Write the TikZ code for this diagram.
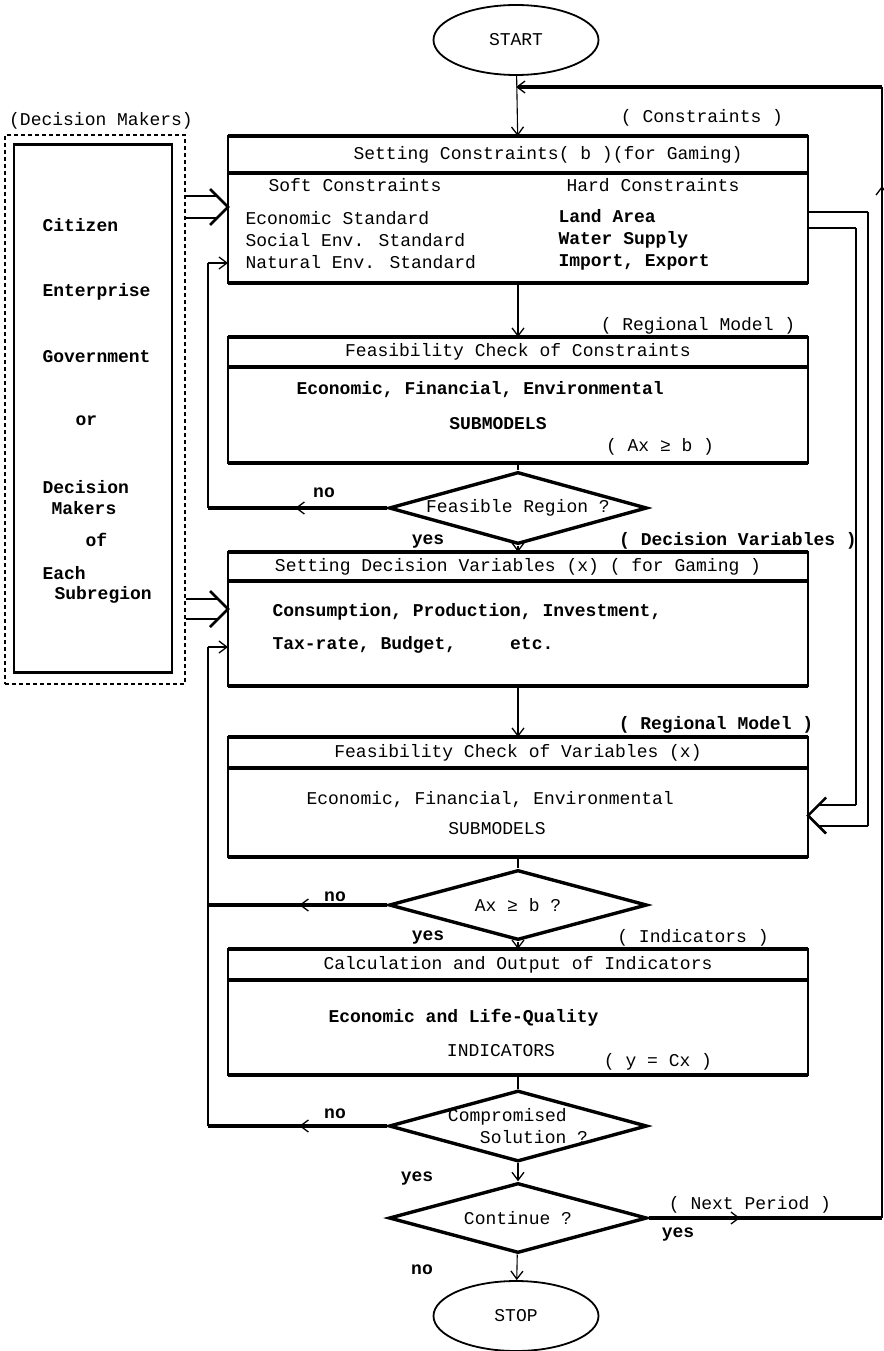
\documentclass[tikz,border=0pt]{standalone}
\usepackage{fontspec}
\newfontfamily\dotfont{Liberation Mono}
\usepackage{tikz}
\usetikzlibrary{shapes.geometric,positioning,arrows.meta,calc}

\tikzset{
  every node/.style={font=\dotfont\fontsize{18}{22}\selectfont},
  bold/.style={font=\dotfont\bfseries\fontsize{18}{22}\selectfont},
  heavy/.style={line width=3.6pt},
  side/.style={line width=1.1pt},
  hollow/.style={line width=2.5pt},
  tip/.style={-{Straight Barb[length=8pt,width=12pt,line width=1.3pt]}},
  flow/.style={side,tip},
  panel/.style={minimum width=580pt,inner sep=0pt,outer sep=0pt},
  decide/.style={diamond,draw,line width=3.4pt,aspect=3.6,minimum width=258pt,minimum height=72pt,inner sep=0pt},
  terminal/.style={ellipse,draw,line width=1.8pt,minimum width=165pt,minimum height=70pt,inner sep=0pt},
}

\begin{document}
\begin{tikzpicture}[x=1pt,y=-1pt]
  \useasboundingbox (0,0) rectangle (883,1351);
  %% Start and stop
  \node[terminal] (start) at (516,40) {START};
  \node[terminal] (stop) at (516,1316) {STOP};
  %% Panels: header and body
  \node[panel,minimum height=37pt] (h1) at (518,154.5) {\hspace*{60pt}Setting Constraints( b )(for Gaming)};
  \node[panel,minimum height=110pt,below=0pt of h1] (b1) {};
  \node[panel,minimum height=30pt] (h2) at (518,352) {Feasibility Check of Constraints};
  \node[panel,minimum height=96pt,below=0pt of h2] (b2) {};
  \node[panel,minimum height=29pt] (h3) at (518,566.5) {Setting Decision Variables (x) ( for Gaming )};
  \node[panel,minimum height=105pt,below=0pt of h3] (b3) {};
  \node[panel,minimum height=31pt] (h4) at (518,752.5) {Feasibility Check of Variables (x)};
  \node[panel,minimum height=89pt,below=0pt of h4] (b4) {};
  \node[panel,minimum height=31pt] (h5) at (518,964.5) {Calculation and Output of Indicators};
  \node[panel,minimum height=95pt,below=0pt of h5] (b5) {};
  \foreach \n in {1,...,5} {
    \draw[side] (h\n.north west) rectangle (b\n.south east);
    \draw[heavy] (h\n.north west) -- (h\n.north east)
                 (h\n.south west) -- (h\n.south east)
                 (b\n.south west) -- (b\n.south east);
  }
  %% Decisions
  \node[decide] (d1) at (518,508) {Feasible Region ?};
  \node[decide,minimum height=70pt] (d2) at (518,905) {Ax ≥ b ?};
  \node[decide,inner sep=-5pt,minimum height=71pt,align=left] (d3) at (518,1126) {Compromised\\\hspace*{32pt}Solution ?};
  \node[decide,minimum height=70pt] (d4) at (518,1218) {Continue ?};
  %% Panel contents
  \node[anchor=west] (soft) at (265,185) {Soft Constraints};
  \node[anchor=west] (hard) at (563,185) {Hard Constraints};
  \node[anchor=west,align=left] (softlist) at (242,240) {Economic Standard\\Social Env. Standard\\Natural Env. Standard};
  \node[anchor=west,align=left,bold] (hardlist) at (555,240) {Land Area\\Water Supply\\Import, Export};
  \node[anchor=west,bold] (sub2a) at (293,390) {Economic, Financial, Environmental};
  \node[bold] (sub2b) at (498,424) {SUBMODELS};
  \node[anchor=west,bold] (var3a) at (269,612) {Consumption, Production, Investment,};
  \node[anchor=west,bold] (var3b) at (269,645) {Tax-rate, Budget,~~~~~etc.};
  \node[anchor=west] (sub4a) at (303,800) {Economic, Financial, Environmental};
  \node (sub4b) at (497,829) {SUBMODELS};
  \node[anchor=west,bold] (ind5a) at (325,1018) {Economic and Life-Quality};
  \node (ind5b) at (501,1051) {INDICATORS};
  %% Side labels
  \node (lbl1) at (702,118) {( Constraints )};
  \node (lbl2) at (698,326) {( Regional Model )};
  \node (lbl3) at (660,447) {( Ax ≥ b )};
  \node[bold] (lbl4) at (738,541) {( Decision Variables )};
  \node[bold] (lbl5) at (716,725) {( Regional Model )};
  \node (lbl6) at (693,938) {( Indicators )};
  \node (lbl7) at (658,1062) {( y = Cx )};
  \node (lbl8) at (750,1205) {( Next Period )};
  \node[bold] (no1) at (324,493) {no};
  \node[bold] (no2) at (335,897) {no};
  \node[bold] (no3) at (335,1114) {no};
  \node[bold] (no4) at (422,1270) {no};
  \node[bold] (yes1) at (428,542) {yes};
  \node[bold] (yes2) at (428,938) {yes};
  \node[bold] (yes3) at (417,1179) {yes};
  \node[bold] (yes4) at (678,1235) {yes};
  %% Decision makers
  \node[draw,line width=1.2pt,dash pattern=on 4pt off 3pt,minimum width=180pt,minimum height=549pt,inner sep=0pt] (dm) at (95,409.5) {};
  \node (dmlabel) at (101,121) {(Decision Makers)};
  \node[draw,side,minimum width=158pt,minimum height=527pt,inner sep=0pt] (dmbox) at (93,408.5) {};
  \draw[heavy] (dmbox.north west) -- (dmbox.north east) (dmbox.south west) -- (dmbox.south east);
  \node[anchor=west,bold] (who1) at (39,225) {Citizen};
  \node[anchor=west,bold] (who2) at (39,292) {Enterprise};
  \node[anchor=west,bold] (who3) at (39,357) {Government};
  \node[anchor=west,bold] (who4) at (72,421) {or};
  \node[anchor=west,bold] (who5) at (39,487) {Decision};
  \node[anchor=west,bold] (who6) at (48,508) {Makers};
  \node[anchor=west,bold] (who7) at (82,540) {of};
  \node[anchor=west,bold] (who8) at (39,573) {Each};
  \node[anchor=west,bold] (who9) at (51,595) {Subregion};
  %% Main flow
  \draw[flow] (start) -- (h1);
  \draw[flow] (b1) -- (h2);
  \draw[side] (b2) -- (d1);
  \draw[flow] (d1) -- (h3);
  \draw[flow] (b3) -- (h4);
  \draw[side] (b4) -- (d2);
  \draw[flow] (d2) -- (h5);
  \draw[side] (b5) -- (d3);
  \draw[flow] (d3) -- (d4);
  \draw[flow] (d4) -- (stop);
  %% "no" returns on the left
  \coordinate (backA) at (208,263);
  \coordinate (backB) at (208,647);
  \draw[heavy] (d1.west) -- (d1.west -| backA);
  \draw[heavy,tip] (d1.west) -- ++(-92,0);
  \draw[side] (d1.west -| backA) -- (backA);
  \draw[flow] (backA) -- (backA -| b1.west);
  \draw[heavy] (d2.west) -- (d2.west -| backB);
  \draw[heavy,tip] (d2.west) -- ++(-88,0);
  \draw[heavy] (d3.west) -- (d3.west -| backB);
  \draw[heavy,tip] (d3.west) -- ++(-88,0);
  \draw[side] (d3.west -| backB) -- (backB);
  \draw[flow] (backB) -- (backB -| b3.west);
  %% Next period return on the right
  \coordinate (botret) at (882,1218);
  \coordinate (topret) at (882,87);
  \draw[heavy] (d4.east) -- (botret);
  \draw[heavy,tip] (d4.east) -- (740,1218);
  \draw[side] (botret) -- (topret);
  \draw[side,tip] (botret) -- (882,186);
  \draw[heavy,tip] (topret) -- (topret -| start);
  %% Hollow arrows
  \coordinate (in1) at (b1.west |- 0,207);
  \coordinate (in3) at (b3.west |- 0,609);
  \coordinate (in4) at (b4.east |- 0,815.5);
  \draw[hollow] (in1) ++(-11,-11) -- (dm.east |- 0,196) (in1) ++(-11,11) -- (dm.east |- 0,218);
  \draw[hollow] (in1) ++(-18,-18) -- (in1) -- ++(-18,18);
  \draw[hollow] (in3) ++(-11,-10) -- (dm.east |- 0,599) (in3) ++(-11,10) -- (dm.east |- 0,619);
  \draw[hollow] (in3) ++(-18,-18) -- (in3) -- ++(-18,18);
  \coordinate (oA) at (868,212);
  \coordinate (oB) at (868,826);
  \coordinate (iA) at (856,228);
  \coordinate (iB) at (856,805);
  \draw[hollow] (oA -| b1.east) -- (oA) (iA -| b1.east) -- (iA);
  \draw[side] (oA) -- (oB) (iA) -- (iB);
  \draw[hollow] (oB) -- ($(in4)+(10.5,10.5)$) (iB) -- ($(in4)+(10.5,-10.5)$);
  \draw[hollow] (in4) ++(18,-18) -- (in4) -- ++(18,18);
\end{tikzpicture}
\end{document}
